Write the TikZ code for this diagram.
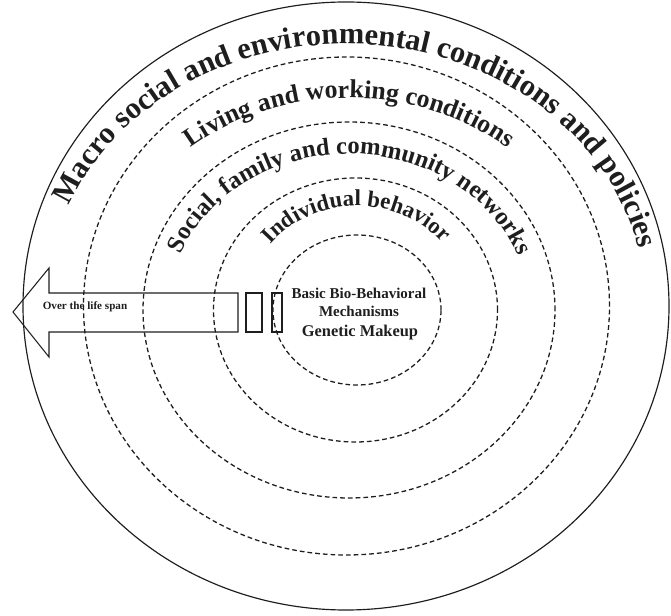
\documentclass[tikz,border=0pt]{standalone}
\usepackage{fontspec}
\setmainfont{Liberation Serif}
\usetikzlibrary{decorations.text, calc}
\definecolor{darkline}{HTML}{1E1E1E}
\tikzset{
  outerring/.style={draw=darkline, line width=1pt},
  ring/.style={draw=darkline, line width=1.1pt, dash pattern=on 4pt off 2.6pt},
  bandlabel/.style={decorate, decoration={text along path, text align=center,
                    text color=darkline}},
  lifebox/.style={draw=darkline, line width=0.9pt, line join=miter},
  coretext/.style={font=\bfseries, text=darkline, align=center, inner sep=0pt},
  lifetext/.style={font=\fontsize{9.5}{9.5}\selectfont\bfseries, text=darkline, inner sep=0pt},
}
\newcommand\macrofont{\fontsize{26}{26}\selectfont\bfseries}
\newcommand\livingfont{\fontsize{22}{22}\selectfont\bfseries}
\newcommand\socialfont{\fontsize{21}{21}\selectfont\bfseries}
\newcommand\indivfont{\fontsize{19.5}{19.5}\selectfont\bfseries}

\begin{document}
\begin{tikzpicture}[x=0.03cm, y=0.03cm]
\useasboundingbox (0,0) rectangle (671,615);

% Ring centres (pixel grid, y measured upwards)
\coordinate (c0) at (346,309);
\coordinate (c4) at (346.5,309);
\coordinate (c3) at (349,305);
\coordinate (c2) at (355.5,305);
\coordinate (c1) at (357,305);

% Rings: solid outer one, dashed inner ones
\draw[outerring] (c0) ellipse[x radius=323, y radius=304];
\draw[ring] (c4) ellipse[x radius=263, y radius=249];
\draw[ring] (c3) ellipse[x radius=206, y radius=188];
\draw[ring] (c2) ellipse[x radius=142, y radius=132];
\draw[ring] (c1) ellipse[x radius=84, y radius=75];

% Curved band labels
\path[bandlabel, decoration={text={|\macrofont|Macro social and environmental conditions and policies}}]
  ($(c0)+(158:300 and 262)$) arc[start angle=158, end angle=12, x radius=300, y radius=262];
\path[bandlabel, decoration={text={|\livingfont|Living and working conditions}}]
  ($(c3)+(134:246 and 212)$) arc[start angle=134, end angle=46, x radius=246, y radius=212];
\path[bandlabel, decoration={text={|\socialfont|Social, family and community networks}}]
  ($(c3)+(161:180 and 156)$) arc[start angle=161, end angle=18, x radius=180, y radius=156];
\path[bandlabel, decoration={text={|\indivfont|Individual behavior}}]
  ($(c1)+(146:112 and 104)$) arc[start angle=146, end angle=35, x radius=112, y radius=104];

% Core
\node[coretext, font=\fontsize{12.8}{15.5}\selectfont\bfseries] (core) at (359,313)
  {Basic Bio-Behavioral\\Mechanisms};
\node[coretext, font=\fontsize{14}{14}\selectfont\bfseries] (genes) at (360,282)
  {Genetic Makeup};

% Life span arrow
\draw[lifebox] (13,303) -- (49,347) -- (49,322) -- (238,322) -- (238,283)
  -- (49,283) -- (49,258) -- cycle;
\draw[lifebox] (246,283) rectangle (262,322);
\draw[lifebox] (272,283) rectangle (282,322);
\node[lifetext] (lifespan) at (85,308) {Over the life span};

\end{tikzpicture}
\end{document}
